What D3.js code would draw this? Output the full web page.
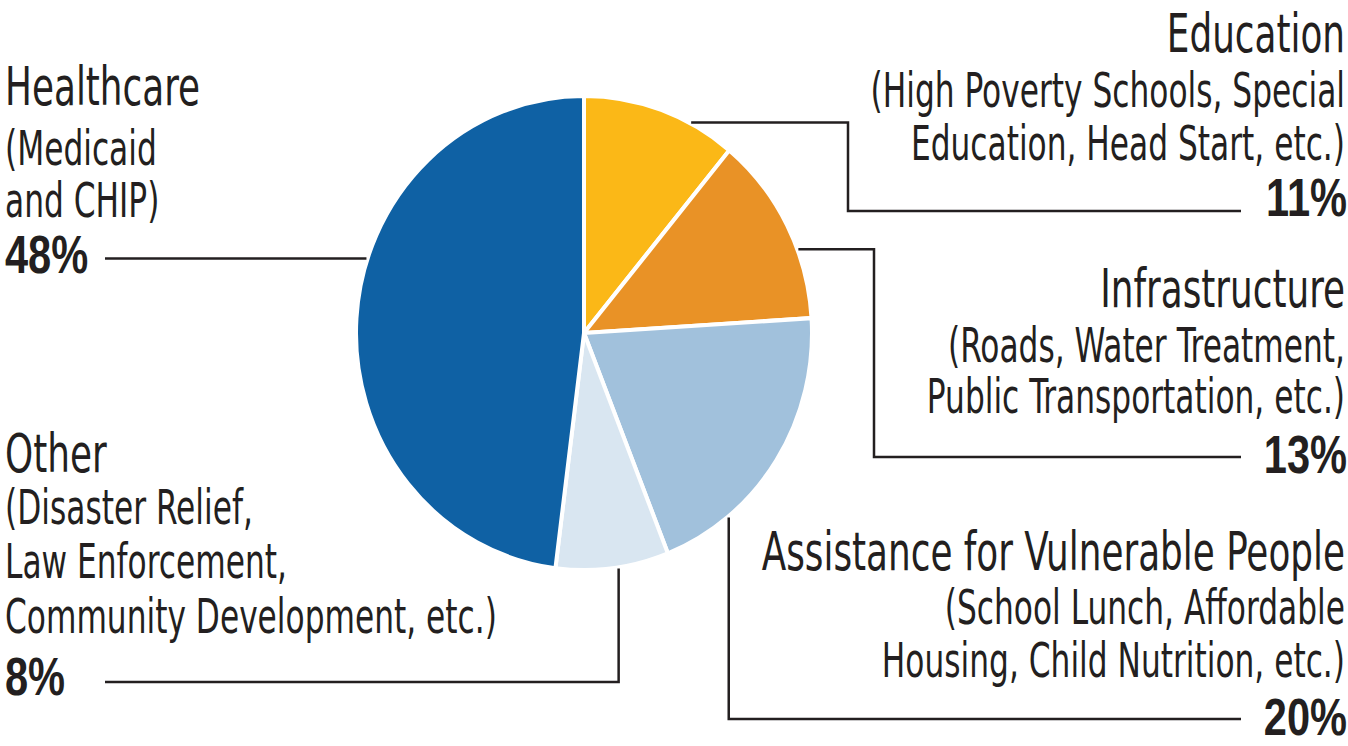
<!DOCTYPE html>
<html>
<head>
<meta charset="utf-8">
<script src="https://cdn.jsdelivr.net/npm/d3@7"></script>
<style>
  html, body { margin: 0; padding: 0; background: #fff; }
  svg { display: block; }
</style>
</head>
<body>
<svg id="chart" width="1348" height="746"></svg>
<script>
// ---------- DATA ----------
const categories = ["Education", "Infrastructure", "Assistance for Vulnerable People", "Other", "Healthcare"];
const values = [11, 13, 20, 8, 48];
const valueLabels = ["11%", "13%", "20%", "8%", "48%"];
const subtitles = [
  ["(High Poverty Schools, Special", "Education, Head Start, etc.)"],
  ["(Roads, Water Treatment,", "Public Transportation, etc.)"],
  ["(School Lunch, Affordable", "Housing, Child Nutrition, etc.)"],
  ["(Disaster Relief,", "Law Enforcement,", "Community Development, etc.)"],
  ["(Medicaid", "and CHIP)"]
];
const colors = ["#FBB817", "#E99226", "#A1C1DC", "#D9E6F1", "#0F61A4"];

// ---------- LAYOUT ----------
const svg = d3.select("#chart");
const cx = 584, cy = 333, R = 228, sy = 1.04;
const ink = "#231f20";
const narrow = "'DejaVu Sans Condensed', 'DejaVu Sans', sans-serif";
const bold = "'Liberation Sans', Arial, sans-serif";

const pie = d3.pie().sort(null).value(d => d);
const arcs = pie(values);
const arc = d3.arc().innerRadius(0).outerRadius(R);

const g = svg.append("g").attr("transform", `translate(${cx},${cy}) scale(1,${sy})`);
g.selectAll("path").data(arcs).join("path")
  .attr("d", arc)
  .attr("fill", (d, i) => colors[i])
  .attr("stroke", "#fff")
  .attr("stroke-width", 4)
  .attr("stroke-linejoin", "round");

// leader anchors (angle in degrees on the rim) and label block configuration
const labelCfg = [
  { ang: 27.9, side: "right", titleY: 52, lineYs: [107, 160], pctY: 216, pctSize: 54, path: "h", elbowX: 848, lineY: 211, endX: 1241 },
  { ang: 69.4, side: "right", titleY: 307, lineYs: [362, 413], pctY: 473, pctSize: 54, path: "h", elbowX: 874, lineY: 457, endX: 1241 },
  { ang: 140.8, side: "right", titleY: 570, lineYs: [624, 677], pctY: 735, pctSize: 51, path: "v", lineY: 719, endX: 1241 },
  { ang: 171.3, side: "left", titleY: 472, lineYs: [524, 578, 633], pctY: 695, pctSize: 54, path: "v", lineY: 682, endX: 105 },
  { ang: 288.2, side: "left", titleY: 105, lineYs: [165, 217], pctY: 273, pctSize: 54, path: "s", lineY: 257, endX: 105 }
];

function rimPoint(angDeg, r) {
  const a = angDeg * Math.PI / 180;
  return [cx + r * Math.sin(a), cy - r * Math.cos(a) * sy];
}

const lines = svg.append("g")
  .attr("fill", "none").attr("stroke", ink).attr("stroke-width", 2.5);

labelCfg.forEach((c, i) => {
  const [px, py] = rimPoint(c.ang, R + 1);
  let pts;
  if (c.path === "h") {
    pts = [[px, py], [c.elbowX, py], [c.elbowX, c.lineY], [c.endX, c.lineY]];
  } else if (c.path === "v") {
    pts = [[px, py], [px, c.lineY], [c.endX, c.lineY]];
  } else {
    pts = [[px, py], [c.endX, py]];
  }
  lines.append("path").attr("d", d3.line()(pts));
});

const texts = svg.append("g").attr("fill", ink);
labelCfg.forEach((c, i) => {
  const x = c.side === "right" ? 1345 : 5;
  const anchor = c.side === "right" ? "end" : "start";
  texts.append("text")
    .attr("transform", `translate(${x},${c.titleY}) scale(0.737,1)`)
    .attr("text-anchor", anchor)
    .attr("font-family", narrow)
    .attr("font-size", 54)
    .text(categories[i]);
  subtitles[i].forEach((s, j) => {
    texts.append("text")
      .attr("transform", `translate(${x},${c.lineYs[j]}) scale(0.724,1)`)
      .attr("text-anchor", anchor)
      .attr("font-family", narrow)
      .attr("font-size", 48)
      .text(s);
  });
  texts.append("text")
    .attr("transform", `translate(${c.side === "right" ? 1347 : 5},${c.pctY}) scale(${0.77 * 54 / c.pctSize},1)`)
    .attr("text-anchor", anchor)
    .attr("font-family", bold)
    .attr("font-weight", "bold")
    .attr("font-size", c.pctSize)
    .text(valueLabels[i]);
});
</script>
</body>
</html>
